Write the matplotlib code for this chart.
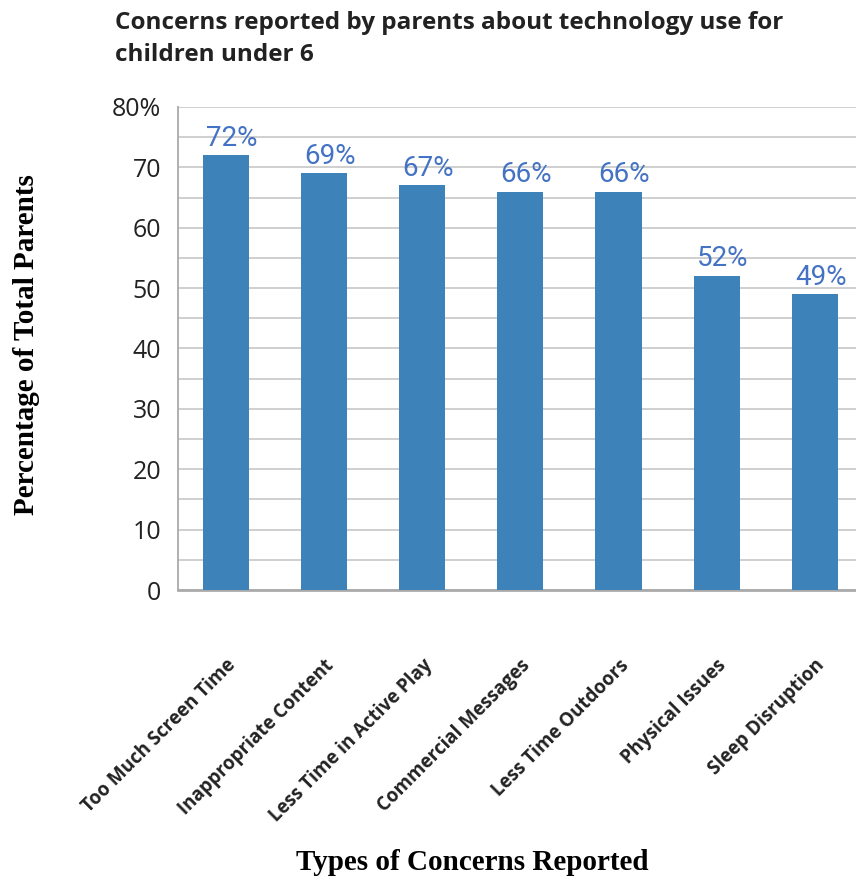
import matplotlib
matplotlib.use("Agg")
import matplotlib.pyplot as plt
from matplotlib.ticker import MultipleLocator, FixedLocator, FixedFormatter

categories = ["Too Much Screen Time", "Inappropriate Content", "Less Time in Active Play",
              "Commercial Messages", "Less Time Outdoors", "Physical Issues", "Sleep Disruption"]
values = [72, 69, 67, 66, 66, 52, 49]
value_labels = ["72%", "69%", "67%", "66%", "66%", "52%", "49%"]
ytick_values = [0, 10, 20, 30, 40, 50, 60, 70, 80]
ytick_labels = ["0", "10", "20", "30", "40", "50", "60", "70", "80%"]
title = "Concerns reported by parents about technology use for\nchildren under 6"
ylabel = "Percentage of Total Parents"
xlabel = "Types of Concerns Reported"

fig = plt.figure(figsize=(8.56, 8.8), dpi=100)
ax = fig.add_axes([178/856, 1-590/880, 1-178/856, (590-107)/880])

x = list(range(len(categories)))
ax.bar(x, values, width=0.47, color="#3d82b9", zorder=3)
for xi, v, lab in zip(x, values, value_labels):
    ax.text(xi + 0.06, v + 0.6, lab, ha="center", va="bottom", color="#4472c4",
            fontsize=20, family="Roboto", zorder=4)

ax.set_xlim(-0.49, 6.42)
ax.set_ylim(0, 80)
ax.yaxis.set_major_locator(FixedLocator(ytick_values))
ax.yaxis.set_major_formatter(FixedFormatter(ytick_labels))
ax.yaxis.set_minor_locator(MultipleLocator(5))
ax.grid(axis="y", which="both", color="#cccccc", linewidth=1.3, zorder=0)
ax.tick_params(axis="y", which="both", length=0, pad=12, labelsize=18, labelcolor="#222222")
for lbl in ax.get_yticklabels():
    lbl.set_family("Open Sans")

ax.set_xticks(x)
ax.set_xticklabels(categories, rotation=45, ha="right", rotation_mode="anchor",
                   fontsize=13.5, fontweight="bold", family="Open Sans", color="#222222")
ax.tick_params(axis="x", length=0, pad=47)

for s in ["top", "right"]:
    ax.spines[s].set_visible(False)
ax.spines["left"].set_color("#aaaaaa")
ax.spines["left"].set_linewidth(1.3)
ax.spines["bottom"].set_color("#aaaaaa")
ax.spines["bottom"].set_linewidth(2)

fig.text(115/856, 1-11/880, title, ha="left", va="top", fontsize=17.5, fontweight="bold",
         family="Open Sans", color="#222222", linespacing=1.45)
fig.text(27/856, 1-345/880, ylabel, rotation=90, ha="center", va="center", fontsize=21,
         fontweight="bold", family="Liberation Serif", color="black")
fig.text(472/856, 1-862/880, xlabel, ha="center", va="center", fontsize=21,
         fontweight="bold", family="Liberation Serif", color="black")

fig.savefig("out.png", dpi=100)
